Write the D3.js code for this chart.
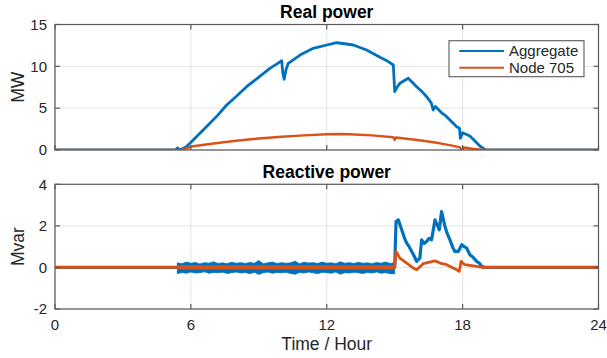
<!DOCTYPE html>
<html>
<head>
<meta charset="utf-8">
<script src="https://cdn.jsdelivr.net/npm/d3@7"></script>
<style>
  html, body { margin: 0; padding: 0; background: #fff; }
  svg { display: block; font-family: "Liberation Sans", Arial, Helvetica, sans-serif; }
</style>
</head>
<body>
<svg id="chart" width="607" height="358"></svg>
<script>
// ---------------- data ----------------
const xTicks = [0, 6, 12, 18, 24];
const realTicks = [0, 5, 10, 15];
const reactTicks = [-2, 0, 2, 4];
const seriesNames = ["Aggregate", "Node 705"];
const seriesColors = ["#0072BD", "#D95319"];

// Real power, aggregate (MW)
const aggPHours = [0, 5.3, 5.42, 5.5, 5.6, 5.8, 5.96, 6.4, 6.84, 7.2, 7.58, 8.0, 8.46, 9.0, 9.49, 9.8, 10.01, 10.06, 10.12, 10.2, 10.3, 10.82, 11.4, 12.0, 12.44, 12.8, 13.17, 13.76, 14.35, 14.7, 14.94, 15.0, 15.1, 15.23, 15.6, 15.97, 16.2, 16.41, 16.62, 16.7, 16.8, 16.92, 17.09, 17.25, 17.44, 17.74, 17.86, 17.9, 18.0, 18.32, 18.5, 18.76, 18.99, 19.2, 24];
const aggP      = [0, 0, 0.25, 0.05, 0.12, 0.4, 0.8, 2.0, 3.19, 4.2, 5.38, 6.4, 7.57, 8.7, 9.76, 10.3, 10.67, 9.2, 8.45, 9.6, 10.36, 11.35, 12.15, 12.55, 12.82, 12.7, 12.55, 11.95, 11.08, 10.6, 10.16, 6.97, 7.5, 7.97, 8.57, 7.57, 7.0, 6.37, 5.6, 4.78, 5.2, 4.86, 4.39, 4.1, 3.59, 2.78, 2.6, 1.4, 2.07, 1.67, 1.2, 0.48, 0.05, 0, 0];

// Real power, node 705 (MW)
const nodePHours = [0, 5.6, 6.1, 7, 8, 9, 10, 11, 12, 12.5, 13, 14, 14.94, 15.0, 15.05, 16, 16.56, 17, 17.6, 17.88, 17.98, 18.05, 18.5, 19, 19.3, 24];
const nodeP      = [0, 0, 0.45, 0.78, 1.1, 1.37, 1.58, 1.75, 1.88, 1.92, 1.89, 1.75, 1.52, 1.2, 1.5, 1.2, 0.99, 0.8, 0.5, 0.32, 0.0, 0.3, 0.12, 0.02, 0, 0];

// Reactive power, aggregate (Mvar) - line part
const aggQHours = [0, 5.42, 15.0, 15.06, 15.16, 15.25, 15.31, 15.42, 15.53, 15.64, 15.75, 15.86, 15.97, 16.11, 16.19, 16.3, 16.41, 16.52, 16.63, 16.78, 16.88, 16.97, 17.07, 17.22, 17.33, 17.44, 17.55, 17.66, 17.81, 17.96, 18.07, 18.18, 18.32, 18.45, 18.62, 18.75, 18.84, 19.0, 24];
const aggQ      = [0, 0, 0, 2.21, 2.29, 2.0, 1.81, 1.45, 1.17, 1.0, 0.77, 0.55, 0.29, 0.45, 1.33, 1.15, 1.25, 1.4, 1.33, 2.29, 2.05, 1.81, 2.69, 1.97, 1.6, 1.33, 1.0, 0.77, 0.77, 1.09, 1.0, 0.93, 0.61, 0.5, 0.29, 0.2, 0.05, 0, 0];
// Reactive power, aggregate - noise envelope between 5.4 h and 15 h
const aggQBandHours = [5.4, 5.6, 5.8, 6.0, 6.2, 6.4, 6.6, 6.8, 7.0, 7.2, 7.4, 7.6, 7.8, 8.0, 8.2, 8.4, 8.6, 8.8, 9.0, 9.2, 9.4, 9.6, 9.8, 10.0, 10.2, 10.4, 10.6, 10.8, 11.0, 11.2, 11.4, 11.6, 11.8, 12.0, 12.2, 12.4, 12.6, 12.8, 13.0, 13.2, 13.4, 13.6, 13.8, 14.0, 14.2, 14.4, 14.6, 14.8, 15.0];
const aggQBandHigh  = [0.22, 0.18, 0.26, 0.2, 0.24, 0.17, 0.23, 0.2, 0.27, 0.19, 0.22, 0.18, 0.25, 0.2, 0.23, 0.19, 0.24, 0.2, 0.33, 0.18, 0.22, 0.26, 0.19, 0.23, 0.2, 0.22, 0.3, 0.18, 0.25, 0.21, 0.23, 0.19, 0.26, 0.2, 0.22, 0.18, 0.27, 0.2, 0.23, 0.19, 0.25, 0.2, 0.22, 0.18, 0.24, 0.2, 0.26, 0.19, 0.22];
const aggQBandLow   = [-0.3, -0.24, -0.28, -0.22, -0.27, -0.25, -0.21, -0.28, -0.24, -0.26, -0.23, -0.29, -0.25, -0.22, -0.27, -0.24, -0.3, -0.23, -0.34, -0.25, -0.22, -0.28, -0.24, -0.26, -0.23, -0.29, -0.33, -0.24, -0.27, -0.22, -0.26, -0.3, -0.23, -0.25, -0.28, -0.22, -0.33, -0.25, -0.27, -0.23, -0.26, -0.29, -0.24, -0.27, -0.22, -0.28, -0.25, -0.3, -0.31];

// Reactive power, node 705 (Mvar)
const nodeQHours = [0, 5.42, 15.0, 15.06, 15.23, 15.53, 15.82, 15.97, 16.26, 16.78, 17.0, 17.29, 17.74, 17.85, 17.93, 18.1, 18.62, 18.84, 24];
const nodeQ      = [0, 0, 0, 0.77, 0.45, 0.21, -0.03, -0.11, 0.18, 0.32, 0.21, 0.13, -0.11, -0.19, 0.29, 0.13, 0.05, 0, 0];
const nodeQBandHours = [5.42, 15.0];
const nodeQBandHalf  = [0.1, 0.1];

// ---------------- layout ----------------
const svg = d3.select("#chart");
const left = 55, right = 598.5;
const panels = [
  { top: 24.5, bottom: 150, domain: [0, 15], ticks: realTicks, title: "Real power", ylabel: "MW", xlabels: false },
  { top: 184.3, bottom: 309, domain: [-2, 4], ticks: reactTicks, title: "Reactive power", ylabel: "Mvar", xlabels: true }
];
const x = d3.scaleLinear().domain([0, 24]).range([left, right]);
const axisColor = "#5a5a5a";
const textColor = "#262626";
const gridColor = "#e3e3e3";

panels.forEach((p, i) => {
  p.y = d3.scaleLinear().domain(p.domain).range([p.bottom, p.top]);
  const g = svg.append("g");
  g.selectAll(".gx").data(xTicks).join("line")
    .attr("x1", d => x(d)).attr("x2", d => x(d))
    .attr("y1", p.top).attr("y2", p.bottom)
    .attr("stroke", gridColor).attr("stroke-width", 1);
  g.selectAll(".gy").data(p.ticks).join("line")
    .attr("x1", left).attr("x2", right)
    .attr("y1", d => p.y(d)).attr("y2", d => p.y(d))
    .attr("stroke", gridColor).attr("stroke-width", 1);
  svg.append("clipPath").attr("id", "clip" + i)
    .append("rect").attr("x", left).attr("y", p.top)
    .attr("width", right - left).attr("height", p.bottom - p.top);
  p.plot = svg.append("g").attr("clip-path", `url(#clip${i})`);
  p.axes = svg.append("g");
});

function lineFor(p) {
  return d3.line().x(d => x(d[0])).y(d => p.y(d[1]));
}
function zip(a, b) { return a.map((v, i) => [v, b[i]]); }

// ---- top panel ----
const P0 = panels[0];
P0.plot.append("path").datum(zip(aggPHours, aggP))
  .attr("d", lineFor(P0)).attr("fill", "none")
  .attr("stroke", seriesColors[0]).attr("stroke-width", 2.8).attr("stroke-linejoin", "round");
P0.plot.append("path").datum(zip(nodePHours, nodeP))
  .attr("d", lineFor(P0)).attr("fill", "none")
  .attr("stroke", seriesColors[1]).attr("stroke-width", 2.4).attr("stroke-linejoin", "round");

// ---- bottom panel ----
const P1 = panels[1];
const bandAgg = d3.area().x(d => x(d.h)).y0(d => P1.y(d.lo)).y1(d => P1.y(d.hi));
P1.plot.append("path")
  .datum(aggQBandHours.map((h, i) => ({ h, hi: aggQBandHigh[i], lo: aggQBandLow[i] })))
  .attr("d", bandAgg).attr("fill", seriesColors[0]).attr("stroke", seriesColors[0]).attr("stroke-width", 0.8);
P1.plot.append("path").datum(zip(aggQHours, aggQ))
  .attr("d", lineFor(P1)).attr("fill", "none")
  .attr("stroke", seriesColors[0]).attr("stroke-width", 3.2).attr("stroke-linejoin", "round");
const bandNode = d3.area().x(d => x(d.h)).y0(d => P1.y(-d.w)).y1(d => P1.y(d.w));
P1.plot.append("path")
  .datum(nodeQBandHours.map((h, i) => ({ h, w: nodeQBandHalf[i] })))
  .attr("d", bandNode).attr("fill", seriesColors[1]);
P1.plot.append("path").datum(zip(nodeQHours, nodeQ))
  .attr("d", lineFor(P1)).attr("fill", "none")
  .attr("stroke", seriesColors[1]).attr("stroke-width", 2.8).attr("stroke-linejoin", "round");

// ---- axes, ticks, labels ----
panels.forEach(p => {
  const a = p.axes;
  a.append("rect").attr("x", left).attr("y", p.top)
    .attr("width", right - left).attr("height", p.bottom - p.top)
    .attr("fill", "none").attr("stroke", axisColor).attr("stroke-width", 1.2);
  const tl = 5;
  xTicks.forEach(t => {
    a.append("line").attr("x1", x(t)).attr("x2", x(t)).attr("y1", p.bottom).attr("y2", p.bottom - tl)
      .attr("stroke", axisColor).attr("stroke-width", 1.2);
    a.append("line").attr("x1", x(t)).attr("x2", x(t)).attr("y1", p.top).attr("y2", p.top + tl)
      .attr("stroke", axisColor).attr("stroke-width", 1.2);
  });
  p.ticks.forEach(t => {
    a.append("line").attr("x1", left).attr("x2", left + tl).attr("y1", p.y(t)).attr("y2", p.y(t))
      .attr("stroke", axisColor).attr("stroke-width", 1.2);
    a.append("line").attr("x1", right).attr("x2", right - tl).attr("y1", p.y(t)).attr("y2", p.y(t))
      .attr("stroke", axisColor).attr("stroke-width", 1.2);
  });
  a.selectAll(".yl").data(p.ticks).join("text")
    .attr("x", left - 8).attr("y", d => p.y(d) + 5.3)
    .attr("text-anchor", "end").attr("font-size", 15).attr("fill", textColor)
    .text(d => d);
  if (p.xlabels) {
    a.selectAll(".xl").data(xTicks).join("text")
      .attr("x", d => x(d)).attr("y", p.bottom + 21)
      .attr("text-anchor", "middle").attr("font-size", 15).attr("fill", textColor)
      .text(d => d);
  }
  a.append("text").attr("x", (left + right) / 2).attr("y", p.top - 6.3)
    .attr("text-anchor", "middle").attr("font-size", 17.5).attr("font-weight", "bold")
    .attr("fill", "#000").text(p.title);
  a.append("text")
    .attr("transform", `translate(24,${(p.top + p.bottom) / 2}) rotate(-90)`)
    .attr("text-anchor", "middle").attr("font-size", 17.5).attr("fill", textColor)
    .text(p.ylabel);
});

svg.append("text").attr("x", (left + right) / 2).attr("y", 350)
  .attr("text-anchor", "middle").attr("font-size", 17.5).attr("fill", textColor)
  .text("Time / Hour");

// ---- legend ----
const lg = svg.append("g");
lg.append("rect").attr("x", 449).attr("y", 40.7).attr("width", 135).attr("height", 36)
  .attr("fill", "#fff").attr("stroke", axisColor).attr("stroke-width", 1.1);
seriesNames.forEach((n, i) => {
  const yy = 51 + i * 16.7;
  lg.append("line").attr("x1", 459.3).attr("x2", 504).attr("y1", yy).attr("y2", yy)
    .attr("stroke", seriesColors[i]).attr("stroke-width", 2);
  lg.append("text").attr("x", 509).attr("y", yy + 5.2)
    .attr("font-size", 15).attr("fill", textColor).text(n);
});
</script>
</body>
</html>
